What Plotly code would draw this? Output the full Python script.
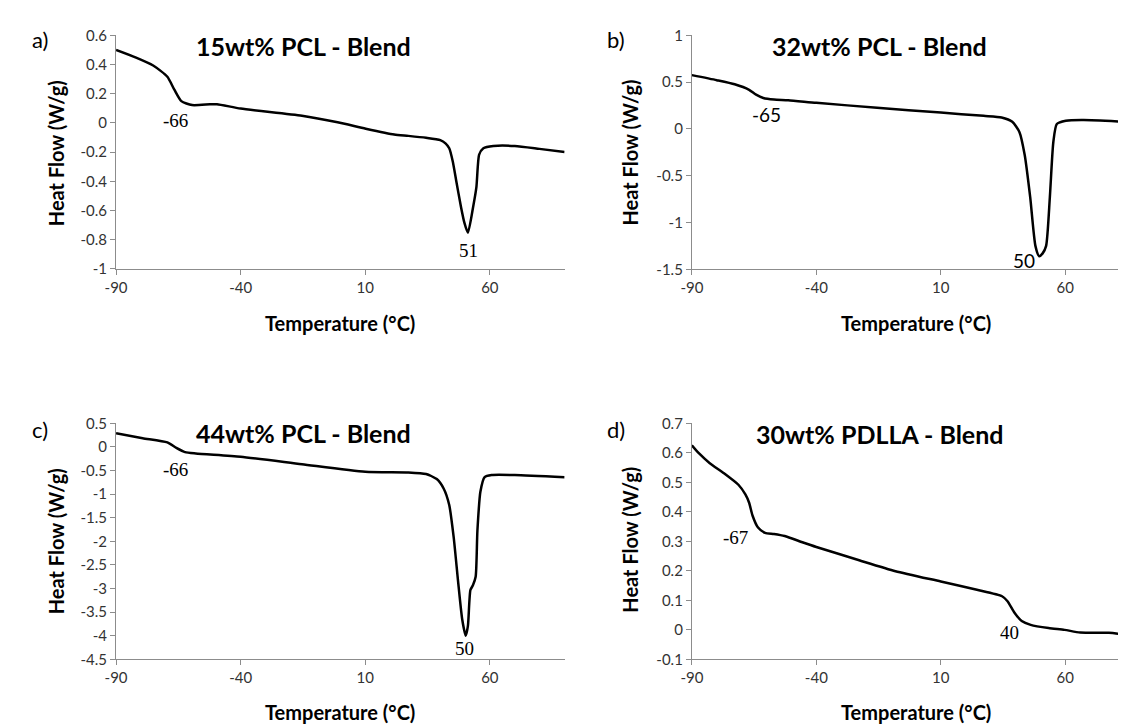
import plotly.graph_objects as go

W, H = 1126, 725

# ---------------- data ----------------
temp_a = [-90, -82.2, -75.1, -69.4, -66.6, -63.8, -59.5, -52.3, -49.5, -40, -15.4, -1.1, 10.2, 21.6, 27.3, 34.4,
          40.1, 42.2, 43.7, 45.1, 46.5, 48.4, 49.8, 51.2, 53.3, 54.6, 55.7, 57.4, 61.4, 70, 79.9, 90]
flow_a = [0.5, 0.449, 0.393, 0.316, 0.227, 0.149, 0.122, 0.127, 0.128, 0.098, 0.049, 0.004, -0.04, -0.08, -0.089, -0.102,
          -0.118, -0.14, -0.174, -0.263, -0.396, -0.574, -0.685, -0.752, -0.574, -0.44, -0.218, -0.174, -0.158, -0.158, -0.178, -0.2]

temp_b = [-90, -80, -72.8, -67, -64.2, -61.3, -57, -51.3, -40, -15.6, 10, 27.2, 34.4, 38.7, 41.6, 43.7, 45.9, 48,
          49.5, 50.9, 52.3, 53.8, 55.2, 56.6, 60.2, 67.4, 87.6]
flow_b = [0.574, 0.52, 0.476, 0.417, 0.365, 0.33, 0.313, 0.306, 0.278, 0.226, 0.174, 0.139, 0.122, 0.076, -0.035, -0.28, -0.73, -1.25,
          -1.36, -1.33, -1.25, -0.73, -0.14, 0.052, 0.087, 0.094, 0.07]

temp_c = [-90, -79.3, -69.4, -65.8, -62.3, -58, -40, -15.4, 10, 27.3, 34.4, 38.7, 41.5, 43.7, 45.5, 47.2, 48.9, 50.3,
          51.2, 52.2, 53.2, 54.3, 55, 56.2, 57.9, 60.7, 70, 90]
flow_c = [0.29, 0.187, 0.097, -0.02, -0.11, -0.138, -0.207, -0.366, -0.526, -0.54, -0.574, -0.68, -0.885, -1.23, -1.92, -2.82, -3.65, -4.0,
          -3.79, -3.03, -2.93, -2.75, -1.78, -0.95, -0.64, -0.595, -0.595, -0.64]

temp_d = [-90, -87.1, -82.8, -77.1, -71.3, -68.5, -67, -65.6, -63.5, -60.6, -57, -52.7, -45.6, -40, -22.8, -8.2, 10, 24.5,
          34.6, 36.8, 39.6, 42.5, 46.1, 53.3, 59.7, 66, 77.5, 80.4, 87.6]
flow_d = [0.626, 0.598, 0.565, 0.531, 0.492, 0.459, 0.431, 0.387, 0.348, 0.329, 0.325, 0.318, 0.297, 0.281, 0.236, 0.199, 0.164, 0.136,
          0.114, 0.097, 0.058, 0.03, 0.017, 0.006, 0.0, -0.009, -0.01, -0.012, -0.022]

titles = ["15wt% PCL - Blend", "32wt% PCL - Blend", "44wt% PCL - Blend", "30wt% PDLLA - Blend"]
panel_letters = ["a)", "b)", "c)", "d)"]

x_ticks = [-90, -40, 10, 60]
x_ticklabels = ["-90", "-40", "10", "60"]

y_ticks_a = [0.6, 0.4, 0.2, 0, -0.2, -0.4, -0.6, -0.8, -1]
y_labels_a = ["0.6", "0.4", "0.2", "0", "-0.2", "-0.4", "-0.6", "-0.8", "-1"]
y_ticks_b = [1, 0.5, 0, -0.5, -1, -1.5]
y_labels_b = ["1", "0.5", "0", "-0.5", "-1", "-1.5"]
y_ticks_c = [0.5, 0, -0.5, -1, -1.5, -2, -2.5, -3, -3.5, -4, -4.5]
y_labels_c = ["0.5", "0", "-0.5", "-1", "-1.5", "-2", "-2.5", "-3", "-3.5", "-4", "-4.5"]
y_ticks_d = [0.7, 0.6, 0.5, 0.4, 0.3, 0.2, 0.1, 0, -0.1]
y_labels_d = ["0.7", "0.6", "0.5", "0.4", "0.3", "0.2", "0.1", "0", "-0.1"]

# peak annotations: (text, temperature, heat flow)
peaks_a = [("-66", -66, 0.015), ("51", 51.6, -0.875)]
peaks_b = [("-65", -60.2, 0.156), ("50", 43.6, -1.41)]
peaks_c = [("-66", -66.1, -0.47), ("50", 49.8, -4.26)]
peaks_d = [("-67", -72.4, 0.314), ("40", 37.6, -0.009)]

# ---------------- layout helpers ----------------
def px_x(p):
    return p / W

def px_y(p):
    return 1 - p / H

panels = [
    dict(t=temp_a, f=flow_a, xr=[-90, 90], yr=[-1, 0.6], yt=y_ticks_a, yl=y_labels_a, pk=peaks_a,
         xd=[98, 551], yd=[17.7, 257.3], title_y=0.529, letter=(21, 22), ytitle=(37, 139), xtitle_y=313, serif=True),
    dict(t=temp_b, f=flow_b, xr=[-90, 87.6], yr=[-1.5, 1], yt=y_ticks_b, yl=y_labels_b, pk=peaks_b,
         xd=[679.5, 1126], yd=[17.7, 257.7], title_y=0.889, letter=(603, 22), ytitle=(617, 138), xtitle_y=313, serif=False),
    dict(t=temp_c, f=flow_c, xr=[-90, 90], yr=[-4.5, 0.5], yt=y_ticks_c, yl=y_labels_c, pk=peaks_c,
         xd=[98, 551], yd=[415.7, 657.7], title_y=0.292, letter=(21, 422), ytitle=(37, 537), xtitle_y=712, serif=True),
    dict(t=temp_d, f=flow_d, xr=[-90, 87.6], yr=[-0.1, 0.7], yt=y_ticks_d, yl=y_labels_d, pk=peaks_d,
         xd=[679.5, 1126], yd=[415.7, 657.7], title_y=0.663, letter=(603, 422), ytitle=(617, 535), xtitle_y=712, serif=True),
]

fig = go.Figure()
axis_color = "#8c8c8c"
tick_font = dict(family="Lato, Open Sans, sans-serif", size=15, color="#333333")
annotations = []

for i, p in enumerate(panels):
    n = "" if i == 0 else str(i + 1)
    xa, ya = "x" + n, "y" + n
    fig.add_trace(go.Scatter(x=p["t"], y=p["f"], mode="lines", xaxis=xa, yaxis=ya,
                             line=dict(color="black", width=2.5, shape="spline", smoothing=0.6),
                             showlegend=False, hoverinfo="skip"))
    fig.layout["xaxis" + n] = dict(
        domain=[px_x(p["xd"][0]), px_x(p["xd"][1])], range=p["xr"], anchor=ya,
        tickvals=x_ticks, ticktext=x_ticklabels, ticks="outside", ticklen=5, tickcolor=axis_color,
        showline=True, linecolor=axis_color, linewidth=1, showgrid=False, zeroline=False,
        tickfont=tick_font, fixedrange=True)
    fig.layout["yaxis" + n] = dict(
        domain=[px_y(p["yd"][1]), px_y(p["yd"][0])], range=p["yr"], anchor=xa,
        tickvals=p["yt"], ticktext=p["yl"], ticks="outside", ticklen=5, tickcolor=axis_color,
        showline=True, linecolor=axis_color, linewidth=1, showgrid=False, zeroline=False,
        tickfont=tick_font, fixedrange=True)
    # chart title
    annotations.append(dict(text="<b>" + titles[i] + "</b>", x=-14.6, y=p["title_y"], xref=xa, yref=ya,
                            xanchor="center", yanchor="middle", showarrow=False,
                            font=dict(family="Lato, sans-serif", size=25, color="black")))
    # panel letter
    annotations.append(dict(text=panel_letters[i], x=px_x(p["letter"][0]), y=px_y(p["letter"][1]),
                            xref="paper", yref="paper", xanchor="center", yanchor="middle", showarrow=False,
                            font=dict(family="Lato, sans-serif", size=22, color="black")))
    # y-axis title
    annotations.append(dict(text="<b>Heat Flow (W/g)</b>", x=px_x(p["ytitle"][0]), y=px_y(p["ytitle"][1]),
                            xref="paper", yref="paper", xanchor="center", yanchor="middle",
                            showarrow=False, textangle=-90,
                            font=dict(family="Lato, sans-serif", size=20, color="black")))
    # x-axis title
    annotations.append(dict(text="<b>Temperature (°C)</b>", x=0, y=px_y(p["xtitle_y"]),
                            xref=xa, yref="paper", xanchor="center", yanchor="middle", showarrow=False,
                            font=dict(family="Lato, sans-serif", size=20, color="black")))
    # peak labels
    fam = "Liberation Serif, serif" if p["serif"] else "Lato, sans-serif"
    for txt, tx, ty in p["pk"]:
        annotations.append(dict(text=txt, x=tx, y=ty, xref=xa, yref=ya, xanchor="center", yanchor="middle",
                                showarrow=False, font=dict(family=fam, size=19, color="black")))

fig.update_layout(width=W, height=H, margin=dict(l=0, r=0, t=0, b=0),
                  paper_bgcolor="white", plot_bgcolor="white", annotations=annotations)

fig.write_html("out.html")
